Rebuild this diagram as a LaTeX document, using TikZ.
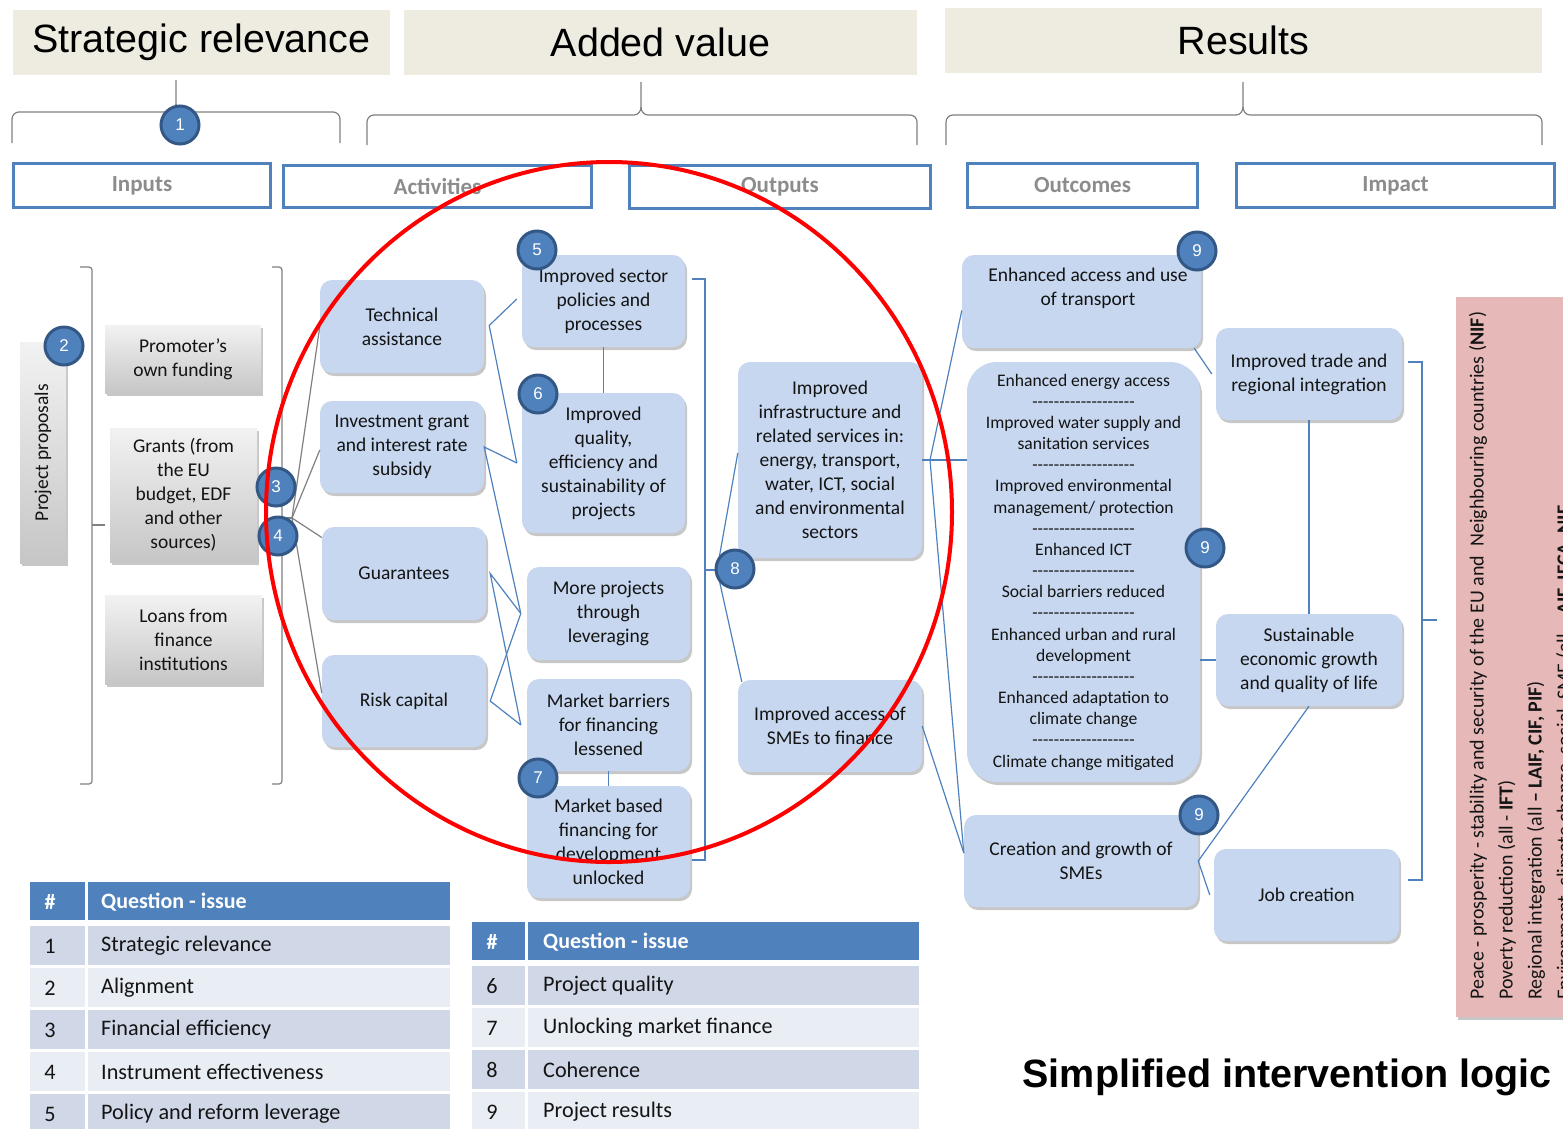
\documentclass[tikz,border=0pt]{standalone}
\usepackage{fontspec}
\setmainfont{Carlito}
\newfontfamily\arialf{Liberation Sans}
\usetikzlibrary{shadows,shapes.geometric}
\definecolor{boxblue}{RGB}{198,215,239}
\definecolor{accent}{RGB}{79,129,189}
\definecolor{accentdk}{RGB}{52,88,134}
\definecolor{beige}{RGB}{238,236,225}
\definecolor{rowA}{RGB}{208,216,232}
\definecolor{rowB}{RGB}{233,237,244}
\definecolor{pinkbg}{RGB}{230,185,184}
\definecolor{stagegray}{RGB}{140,140,140}
\definecolor{txt}{RGB}{20,20,20}
\newcommand{\dashline}{-{}-{}-{}-{}-{}-{}-{}-{}-{}-{}-{}-{}-{}-{}-{}-{}-{}-{}-}
\begin{document}
\begin{tikzpicture}[x=1pt,y=-1pt,
  hdrbox/.style={fill=beige, inner sep=0, font=\arialf\fontsize{39.5}{44}\selectfont},
  stagebox/.style={draw=accent, line width=3pt, fill=white, inner sep=0, text=stagegray, font=\fontsize{23}{27}\selectfont\bfseries},
  badge/.style={circle, fill=accent, draw=accentdk, line width=3pt, minimum size=38, inner sep=0, text=white, font=\arialf\fontsize{17}{19}\selectfont},
  shad/.style={drop shadow={shadow xshift=2pt, shadow yshift=-3pt, opacity=0.22, fill=black}},
  obox/.style={rounded corners=12, fill=boxblue, align=center, inner sep=0, text=txt, font=\fontsize{19.5}{24}\selectfont, shad},
  gbox/.style={top color={rgb,255:red,242;green,242;blue,242}, bottom color={rgb,255:red,198;green,198;blue,198}, draw=none, align=center, inner sep=0, text=txt, font=\fontsize{19.5}{24}\selectfont, shad},
  blink/.style={draw=accent, line width=1.2pt},
  glink/.style={draw=gray, line width=1.2pt},
  bracegray/.style={draw=gray, line width=1.2pt},
  pinktxt/.style={rotate=90, anchor=west, inner sep=0, text=txt, font=\fontsize{20}{23}\selectfont},
  thW/.style={text=white, inner sep=0, font=\fontsize{22}{25}\selectfont\bfseries},
  tcell/.style={text=txt, inner sep=0, font=\fontsize{22.2}{25}\selectfont}
]
\useasboundingbox (0,0) rectangle (1563,1128);

% ---------- header boxes ----------
\node[hdrbox, minimum width=377, minimum height=65] (hSR) at (201.5,42.5) {Strategic relevance};
\node[hdrbox, minimum width=513, minimum height=65] (hAV) at (660.5,42.5) {Added value};
\node[hdrbox, minimum width=597, minimum height=65] (hRE) at (1243.5,40.5) {Results};

% ---------- braces ----------
\draw[bracegray] (12,143) -- (12,119) to[out=90,in=180] (19,112) -- (169,112) to[out=0,in=-90] (176,104) -- (176,80);
\draw[bracegray] (176,104) to[out=-90,in=180] (183,112) -- (333,112) to[out=0,in=90] (340,119) -- (340,143);
\draw[bracegray] (367,145) -- (367,122) to[out=90,in=180] (374,115) -- (634,115) to[out=0,in=-90] (641,107) -- (641,82);
\draw[bracegray] (641,107) to[out=-90,in=180] (648,115) -- (910,115) to[out=0,in=90] (917,122) -- (917,145);
\draw[bracegray] (946,145) -- (946,122) to[out=90,in=180] (953,115) -- (1236,115) to[out=0,in=-90] (1243,107) -- (1243,82);
\draw[bracegray] (1243,107) to[out=-90,in=180] (1250,115) -- (1535,115) to[out=0,in=90] (1542,122) -- (1542,145);

% ---------- stage boxes ----------
\node[stagebox, minimum width=257, minimum height=44] (sIn) at (142,185.5) {Inputs};
\node[stagebox, minimum width=308, minimum height=42] (sAc) at (437.5,186.5) {Activities};
\node[stagebox, minimum width=301, minimum height=43] (sOu) at (780,187) {Outputs};
\node[stagebox, minimum width=230, minimum height=44] (sOc) at (1082.5,185.5) {Outcomes};
\node[stagebox, minimum width=318, minimum height=44] (sIm) at (1395.5,185.5) {Impact};

% ---------- inputs ----------
\node[gbox, rotate=90, minimum width=221, minimum height=46] (prop) at (43,452.5) {Project proposals};
\node[gbox, minimum width=156, minimum height=68] (prom) at (183,359) {Promoter's\\own funding};
\node[gbox, minimum width=147, minimum height=134] (grant) at (183.5,495) {Grants (from\\the EU\\budget, EDF\\and other\\sources)};
\node[gbox, minimum width=157, minimum height=89] (loan) at (183.5,639.5) {Loans from\\finance\\institutions};

\draw[bracegray, rounded corners=3] (80,267) -- (92,267) -- (92,784) -- (80,784);
\draw[bracegray] (92,525) -- (105,525);
\draw[bracegray, rounded corners=3] (272,267) -- (282,267) -- (282,784) -- (272,784);
\coordinate (fan) at (292,518);
\draw[bracegray] (282,518) -- (fan);

% ---------- activities ----------
\node[obox, minimum width=164, minimum height=93] (ta) at (402,326.5) {Technical\\assistance};
\node[obox, minimum width=164, minimum height=92] (ig) at (402,447) {Investment grant\\and interest rate\\subsidy};
\node[obox, minimum width=164, minimum height=93] (guar) at (404,573.5) {Guarantees};
\node[obox, minimum width=164, minimum height=92] (risk) at (404,701) {Risk capital};

% ---------- outputs ----------
\node[obox, minimum width=163, minimum height=92] (pol) at (603.5,301) {Improved sector\\policies and\\processes};
\node[obox, minimum width=163, minimum height=140] (qual) at (603.5,463) {Improved\\quality,\\efficiency and\\sustainability of\\projects};
\node[obox, minimum width=163, minimum height=93] (more) at (608.5,613.5) {More projects\\through\\leveraging};
\node[obox, minimum width=163, minimum height=92] (barr) at (608.5,725) {Market barriers\\for financing\\lessened};
\node[obox, minimum width=163, minimum height=112] (mkt) at (608.5,842) {Market based\\financing for\\development\\unlocked};
\node[obox, minimum width=184, minimum height=196] (infra) at (830,460) {Improved\\infrastructure and\\related services in:\\energy, transport,\\water, ICT, social\\and environmental\\sectors};
\node[obox, minimum width=184, minimum height=92] (smefin) at (830,726) {Improved access of\\SMEs to finance};

% ---------- outcomes ----------
\node[obox, minimum width=239, minimum height=93] (trans) at (1081.5,301.5) {};
\node[align=center, inner sep=0, text=txt, font=\fontsize{19.5}{24}\selectfont] (transT) at (1088,288) {Enhanced access and use\\of transport};
\node[obox, rounded corners=30, minimum width=233, minimum height=420, font=\fontsize{17.6}{21.17}\selectfont] (big) at (1083.5,572) {Enhanced energy access\\\dashline\\Improved water supply and\\sanitation services\\\dashline\\Improved environmental\\management/ protection\\\dashline\\Enhanced ICT\\\dashline\\Social barriers reduced\\\dashline\\Enhanced urban and rural\\development\\\dashline\\Enhanced adaptation to\\climate change\\\dashline\\Climate change mitigated};
\node[obox, minimum width=234, minimum height=92] (creat) at (1081,861) {Creation and growth of\\SMEs};

% ---------- impact ----------
\node[obox, minimum width=186, minimum height=92] (trade) at (1309,374) {Improved trade and\\regional integration};
\node[obox, minimum width=186, minimum height=92] (sust) at (1309,660) {Sustainable\\economic growth\\and quality of life};
\node[obox, minimum width=185, minimum height=92] (job) at (1306.5,895) {Job creation};

% ---------- pink box ----------
\node[fill=pinkbg, minimum width=110, minimum height=720, inner sep=0, shad] (pink) at (1511,657) {};
\begin{scope}
\clip (1456,290) rectangle (1563,1020);
\node[pinktxt] (p1) at (1478,1000) {Peace - prosperity - stability and security of the EU and \ Neighbouring countries (\textbf{NIF})};
\node[pinktxt] (p2) at (1507,1000) {Poverty reduction (all - \textbf{IFT})};
\node[pinktxt] (p3) at (1536,1000) {Regional integration (all \textbf{– LAIF, CIF, PIF})};
\node[pinktxt] (p4) at (1565,1000) {Environment, climate change, social, SME (all \textbf{– AIF, IFCA, NIF}};
\end{scope}

% ---------- gray fan connectors ----------
\draw[glink] (fan) -- (ta.west);
\draw[glink] (fan) -- ([yshift=-3pt]ig.west);
\draw[glink] (fan) -- ([yshift=36pt]guar.west);
\draw[glink] (fan) -- ([yshift=8pt]risk.west);

% ---------- blue connectors ----------
\draw[blink] ([xshift=-5pt,yshift=2pt]pol.west) -- ([xshift=5pt,yshift=1pt]ta.east) -- ([xshift=-5pt]qual.west);
\draw[blink] ([xshift=-5pt]qual.west) -- (ig.east) -- ([xshift=-6pt]more.west);
\draw[blink] ([xshift=-6pt]more.west) -- ([xshift=4pt]guar.east) -- ([xshift=-6pt]barr.west);
\draw[blink] ([xshift=-6pt]more.west) -- ([xshift=4pt]risk.east) -- ([xshift=-6pt]barr.west);
\draw[blink] (pol.south) -- (qual.north);
\draw[blink] (barr.south) -- (mkt.north);

\draw[blink] (692,279) -- (705,279) -- (705,860) -- (692,860);
\coordinate (j8) at (717,570);
\draw[blink] (705,570) -- (j8);
\draw[blink] (j8) -- ([yshift=7pt]infra.west);
\draw[blink] (j8) -- ([xshift=4pt,yshift=-2pt]smefin.north west);

\coordinate (jI) at (930,460);
\draw[blink] (infra.east) -- (jI);
\draw[blink] (jI) -- ([yshift=-9pt]trans.west);
\draw[blink] (jI) -- (big.west |- jI);
\draw[blink] (jI) -- ([yshift=8pt]creat.west);
\draw[blink] (smefin.east) -- ([yshift=8pt]creat.west);

\draw[blink] ([xshift=-7pt]trans.south east) -- ([xshift=-4pt]trade.west);
\draw[blink] (trade.south) -- (sust.north);
\draw[blink] (sust.west) -- (sust.west -| big.east);
\draw[blink] (sust.south) -- (creat.east) -- ([xshift=-4pt]job.west);

\draw[blink] (1408,362) -- (1422,362) -- (1422,880) -- (1408,880);
\draw[blink] (1422,620) -- (1437,620);

% ---------- badges ----------
\node[badge] (b1) at (180,125) {1};
\node[badge] (b2) at (64,346) {2};
\node[badge] (b3) at (276,487) {3};
\node[badge] (b4) at (278,536) {4};
\node[badge] (b5) at (537,250) {5};
\node[badge] (b6) at (538,394) {6};
\node[badge] (b7) at (538,778) {7};
\node[badge] (b8) at (735,569) {8};
\node[badge] (b9a) at (1197,251) {9};
\node[badge] (b9b) at (1205,548) {9};
\node[badge] (b9c) at (1199,815) {9};

% ---------- tables ----------
\fill[accent] (30,882) rectangle (85,920);
\fill[accent] (88,882) rectangle (450,920);
\fill[rowA] (30,926) rectangle (85,965);   \fill[rowA] (88,926) rectangle (450,965);
\fill[rowB] (30,968) rectangle (85,1007);  \fill[rowB] (88,968) rectangle (450,1007);
\fill[rowA] (30,1010) rectangle (85,1049); \fill[rowA] (88,1010) rectangle (450,1049);
\fill[rowB] (30,1052) rectangle (85,1091); \fill[rowB] (88,1052) rectangle (450,1091);
\fill[rowA] (30,1094) rectangle (85,1133); \fill[rowA] (88,1094) rectangle (450,1133);
\node[thW] (t1hn) at (50,902) {\#};
\node[thW, anchor=west] (t1hq) at (101,902) {Question - issue};
\node[tcell] (t1n1) at (50,946) {1};  \node[tcell, anchor=west] (t1q1) at (101,946) {Strategic relevance};
\node[tcell] (t1n2) at (50,988) {2};  \node[tcell, anchor=west] (t1q2) at (101,988) {Alignment};
\node[tcell] (t1n3) at (50,1030) {3}; \node[tcell, anchor=west] (t1q3) at (101,1030) {Financial efficiency};
\node[tcell] (t1n4) at (50,1072) {4}; \node[tcell, anchor=west] (t1q4) at (101,1072) {Instrument effectiveness};
\node[tcell] (t1n5) at (50,1114) {5}; \node[tcell, anchor=west] (t1q5) at (101,1114) {Policy and reform leverage};

\fill[accent] (472,922) rectangle (525,960);
\fill[accent] (528,922) rectangle (919,960);
\fill[rowA] (472,966) rectangle (525,1005);  \fill[rowA] (528,966) rectangle (919,1005);
\fill[rowB] (472,1008) rectangle (525,1047); \fill[rowB] (528,1008) rectangle (919,1047);
\fill[rowA] (472,1050) rectangle (525,1089); \fill[rowA] (528,1050) rectangle (919,1089);
\fill[rowB] (472,1092) rectangle (525,1131); \fill[rowB] (528,1092) rectangle (919,1131);
\node[thW] (t2hn) at (492,942) {\#};
\node[thW, anchor=west] (t2hq) at (543,942) {Question - issue};
\node[tcell] (t2n6) at (492,986) {6};  \node[tcell, anchor=west] (t2q6) at (543,986) {Project quality};
\node[tcell] (t2n7) at (492,1028) {7}; \node[tcell, anchor=west] (t2q7) at (543,1028) {Unlocking market finance};
\node[tcell] (t2n8) at (492,1070) {8}; \node[tcell, anchor=west] (t2q8) at (543,1070) {Coherence};
\node[tcell] (t2n9) at (492,1112) {9}; \node[tcell, anchor=west] (t2q9) at (543,1112) {Project results};

% ---------- title ----------
\node[inner sep=0, font=\arialf\fontsize{39.5}{44}\selectfont\bfseries] (title) at (1287,1077) {Simplified intervention logic};

% ---------- red ellipse ----------
\draw[red, line width=4pt] (609,512) ellipse [x radius=343pt, y radius=350pt];
\end{tikzpicture}
\end{document}
